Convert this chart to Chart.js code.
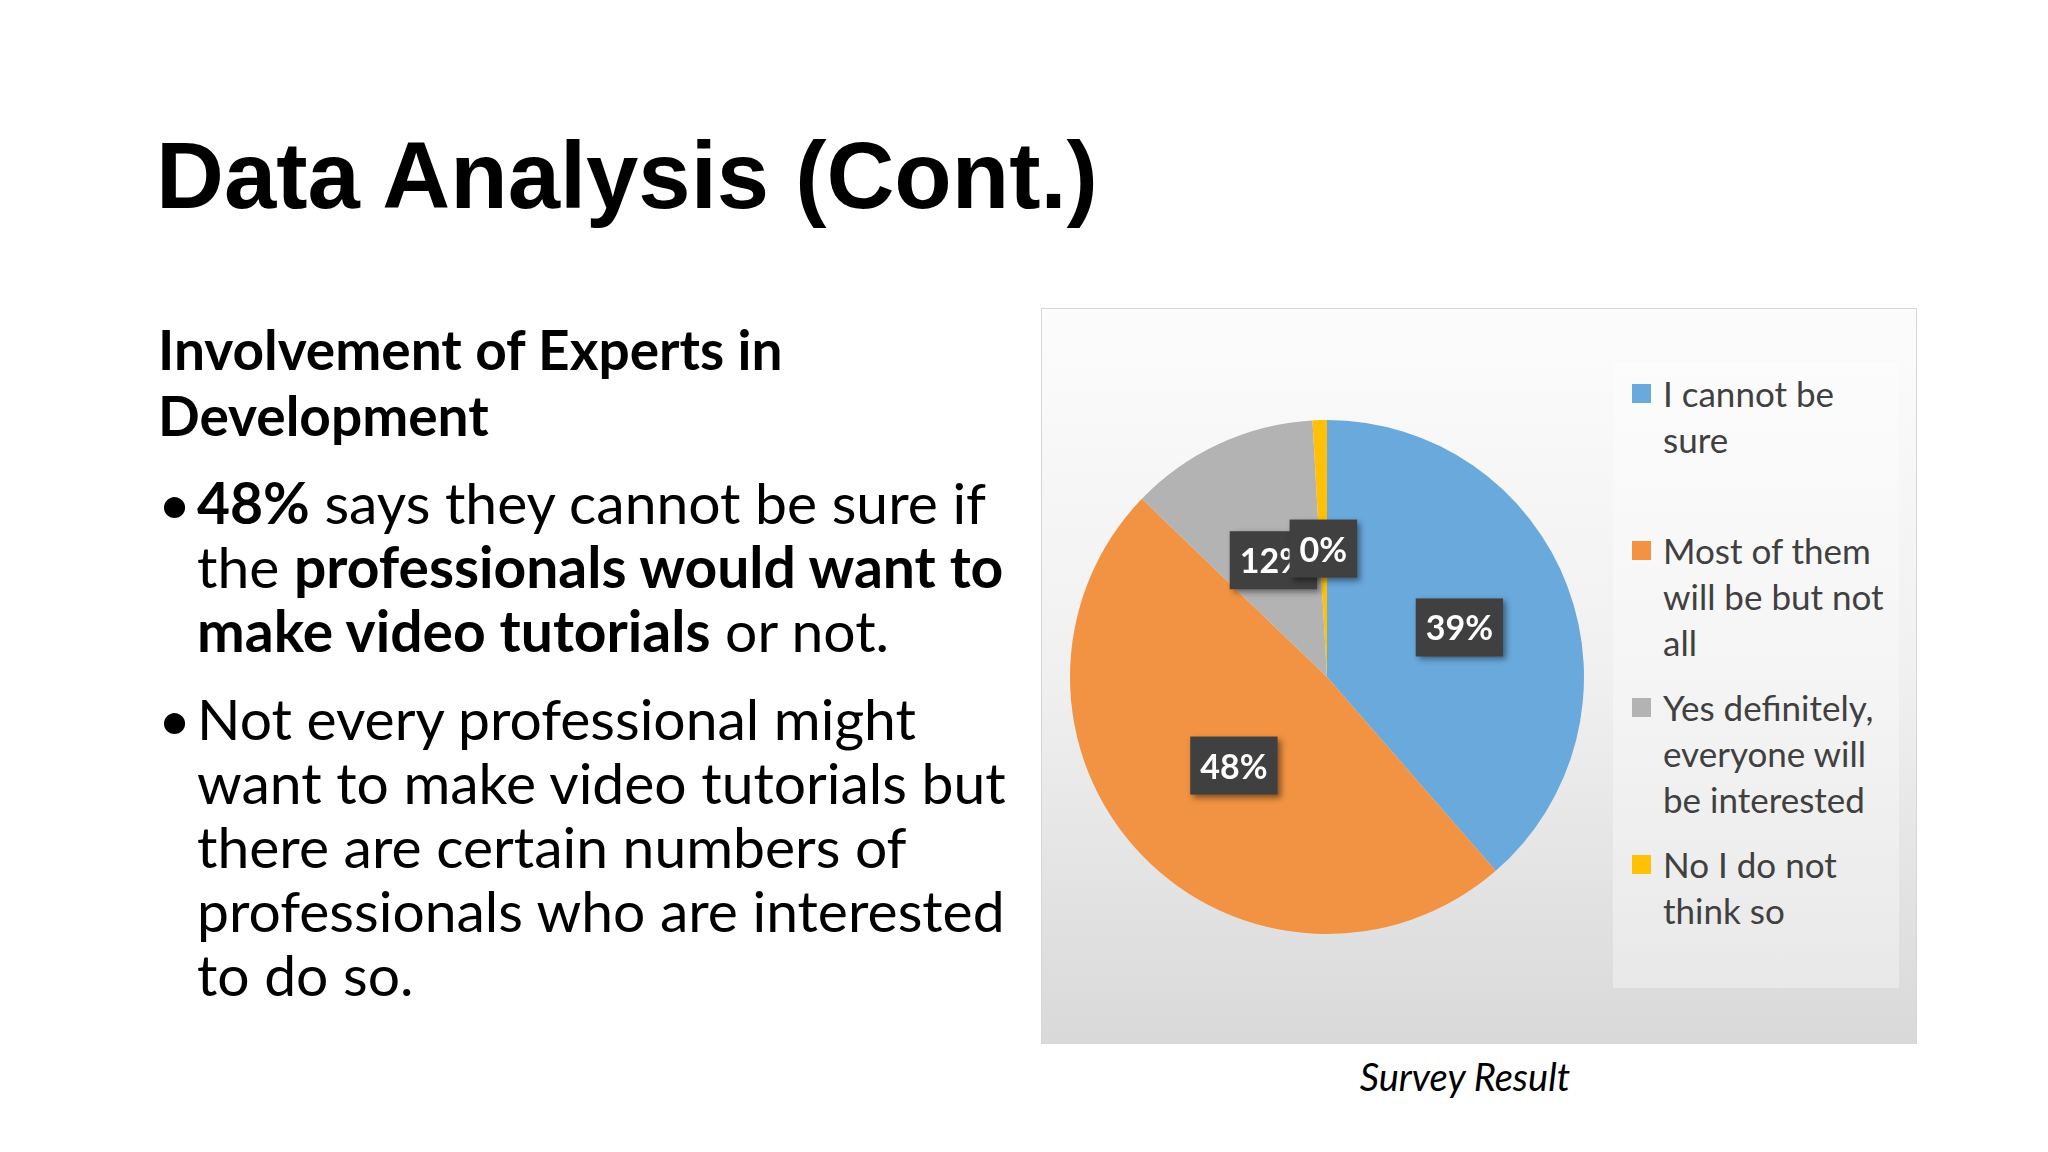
<!DOCTYPE html>
<html>
<head>
<meta charset="utf-8">
<script src="https://cdn.jsdelivr.net/npm/chart.js@4.4.1/dist/chart.umd.min.js"></script>
<style>
  body { margin: 0; width: 2048px; height: 1152px; background: #fff; position: relative; overflow: hidden; font-family: Lato, "Open Sans", sans-serif; color: #000; }
  .title { position: absolute; left: 156px; top: 122px; font: bold 94px "Liberation Sans", Arial, sans-serif; }
  .sub { position: absolute; left: 158px; top: 316px; font: bold 55px Lato, sans-serif; line-height: 66px; }
  .bul { position: absolute; left: 158px; font-size: 57px; line-height: 64px; }
  .bul .dot { position: absolute; left: 0; top: 0; }
  .bul .txt { margin-left: 39px; }
  .box { position: absolute; left: 1041px; top: 308px; width: 874px; height: 734px; border: 1px solid #d6d6d6;
         background: linear-gradient(to bottom, #fcfcfc 0%, #f0f0f0 50%, #d9d9d9 100%); }
  #pie { position: absolute; left: 0; top: 0; }
  .legend { position: absolute; left: 571px; top: 53px; width: 286px; height: 626px; background: rgba(255,255,255,0.35); }
  .item { position: absolute; left: 50px; font-size: 35px; line-height: 46px; color: #404040; }
  .sw { position: absolute; left: -31px; top: 14px; width: 19px; height: 19px; }
  .cap { position: absolute; left: 1345px; top: 1053px; width: 240px; text-align: center; font: italic 38px Lato, sans-serif; }
</style>
</head>
<body>
<div class="title">Data Analysis (Cont.)</div>
<div class="sub">Involvement of Experts in<br>Development</div>
<div class="bul" style="top:470px"><span class="dot">•</span><div class="txt"><b>48%</b> says they cannot be sure if<br>the <b>professionals would want to<br>make video tutorials</b> or not.</div></div>
<div class="bul" style="top:686px"><span class="dot">•</span><div class="txt">Not every professional might<br>want to make video tutorials but<br>there are certain numbers of<br>professionals who are interested<br>to do so.</div></div>

<div class="box">
  <canvas id="pie" width="570" height="736"></canvas>
  <div class="legend" id="legend"></div>
</div>
<div class="cap">Survey Result</div>

<script>
const labels = ['I cannot be sure', 'Most of them will be but not all', 'Yes definitely, everyone will be interested', 'No I do not think so'];
const legendLines = [['I cannot be', 'sure'], ['Most of them', 'will be but not', 'all'], ['Yes definitely,', 'everyone will', 'be interested'], ['No I do not', 'think so']];
const values = [38.6, 48.6, 11.9, 0.9];
const pctLabels = ['39%', '48%', '12%', '0%'];
const colors = ['#6aa9dc', '#f19342', '#b3b3b3', '#fec107'];

const labelPlugin = {
  id: 'boxLabels',
  afterDatasetsDraw(chart) {
    const ctx = chart.ctx;
    const meta = chart.getDatasetMeta(0);
    ctx.save();
    ctx.font = 'bold 34px Lato, sans-serif';
    ctx.textAlign = 'center';
    ctx.textBaseline = 'middle';
    meta.data.forEach((arc, i) => {
      const p = arc.getProps(['x', 'y', 'startAngle', 'endAngle', 'outerRadius']);
      const a = (p.startAngle + p.endAngle) / 2;
      const r = p.outerRadius * (i === 1 ? 0.5 : i === 0 ? 0.55 : 0.5);
      const x = p.x + Math.cos(a) * r;
      const y = p.y + Math.sin(a) * r;
      const w = ctx.measureText(pctLabels[i]).width + 20, h = 58;
      ctx.shadowColor = 'rgba(0,0,0,0.45)';
      ctx.shadowBlur = 6; ctx.shadowOffsetX = 3; ctx.shadowOffsetY = 3;
      ctx.fillStyle = '#404040';
      ctx.fillRect(x - w / 2, y - h / 2, w, h);
      ctx.shadowColor = 'transparent';
      ctx.fillStyle = '#ffffff';
      ctx.fillText(pctLabels[i], x, y + 2);
    });
    ctx.restore();
  }
};

new Chart(document.getElementById('pie'), {
  type: 'pie',
  data: { labels: labels, datasets: [{ data: values, backgroundColor: colors, borderWidth: 0 }] },
  options: {
    responsive: false,
    animation: false,
    layout: { padding: { top: 111, bottom: 111, left: 28, right: 28 } },
    plugins: { legend: { display: false }, tooltip: { enabled: false } }
  },
  plugins: [labelPlugin]
});

const legend = document.getElementById('legend');
const tops = [8, 165, 322, 479];
legendLines.forEach((lines, i) => {
  const d = document.createElement('div');
  d.className = 'item';
  d.style.top = tops[i] + 'px';
  d.innerHTML = '<span class="sw" style="background:' + colors[i] + '"></span>' + lines.join('<br>');
  legend.appendChild(d);
});
</script>
</body>
</html>
